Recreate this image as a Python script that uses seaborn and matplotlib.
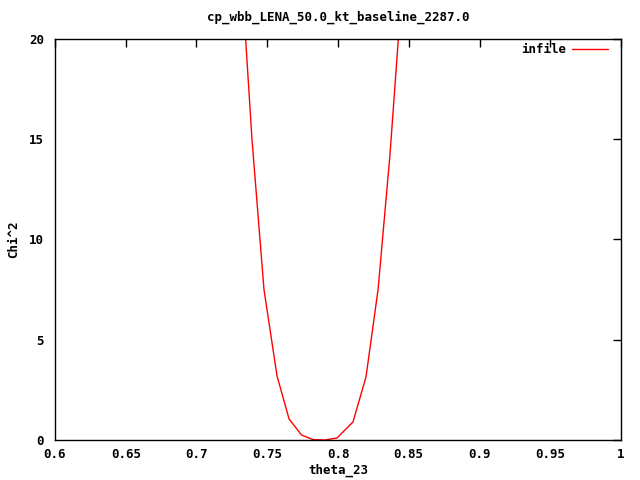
import matplotlib
matplotlib.use("Agg")
import matplotlib.pyplot as plt
import seaborn as sns
import pandas as pd

theta_23 = [0.7222, 0.7307, 0.7392, 0.7477, 0.7569, 0.7654, 0.7742, 0.7823,
            0.7908, 0.7993, 0.8106, 0.8198, 0.8283, 0.8367, 0.8452, 0.8537]
chi2 = [33.0, 24.5, 15.0, 7.5, 3.2, 1.05, 0.25, 0.02,
        0.0, 0.1, 0.9, 3.15, 7.5, 14.2, 22.5, 31.0]
x_ticks = [0.6, 0.65, 0.7, 0.75, 0.8, 0.85, 0.9, 0.95, 1.0]
x_labels = ["0.6", "0.65", "0.7", "0.75", "0.8", "0.85", "0.9", "0.95", "1"]
y_ticks = [0, 5, 10, 15, 20]
title = "cp_wbb_LENA_50.0_kt_baseline_2287.0"

sns.set_style("white")
plt.rcParams['font.family'] = ['DejaVu Sans Mono']
plt.rcParams['font.weight'] = 'bold'
plt.rcParams['text.color'] = 'black'
plt.rcParams['axes.labelcolor'] = 'black'
plt.rcParams['xtick.color'] = 'black'
plt.rcParams['ytick.color'] = 'black'

df = pd.DataFrame({"theta_23": theta_23, "chi2": chi2})

fig = plt.figure(figsize=(6.4, 4.8), dpi=100)
ax = fig.add_axes([55/640, 40/480, 566/640, 401/480])
sns.lineplot(data=df, x="theta_23", y="chi2", sort=False, color="red",
             linewidth=1.0, ax=ax, label="infile")

ax.set_xlim(0.6, 1.0)
ax.set_ylim(0, 20)
ax.set_xticks(x_ticks)
ax.set_xticklabels(x_labels)
ax.set_yticks(y_ticks)
fs = 9
ax.tick_params(direction="in", length=6, width=1, top=True, right=True,
               labelsize=fs, pad=6, color="black", labelcolor="black")
ax.tick_params(axis="y", pad=8)
for lab in ax.get_xticklabels() + ax.get_yticklabels():
    lab.set_fontweight("bold")
for s in ax.spines.values():
    s.set_color("black")
    s.set_linewidth(1)
ax.set_xlabel("theta_23", fontsize=fs, fontweight="bold", labelpad=2)
ax.set_ylabel("Chi^2", fontsize=fs, fontweight="bold", labelpad=6)
ax.set_title(title, fontsize=fs, fontweight="bold", pad=13)
leg = ax.legend(loc="upper right", frameon=False, markerfirst=False,
                prop={"size": fs, "weight": "bold"}, handlelength=2.9,
                handletextpad=0.5, borderaxespad=0.3,
                bbox_to_anchor=(0.993, 1.012))
fig.savefig("out.png", dpi=100)
